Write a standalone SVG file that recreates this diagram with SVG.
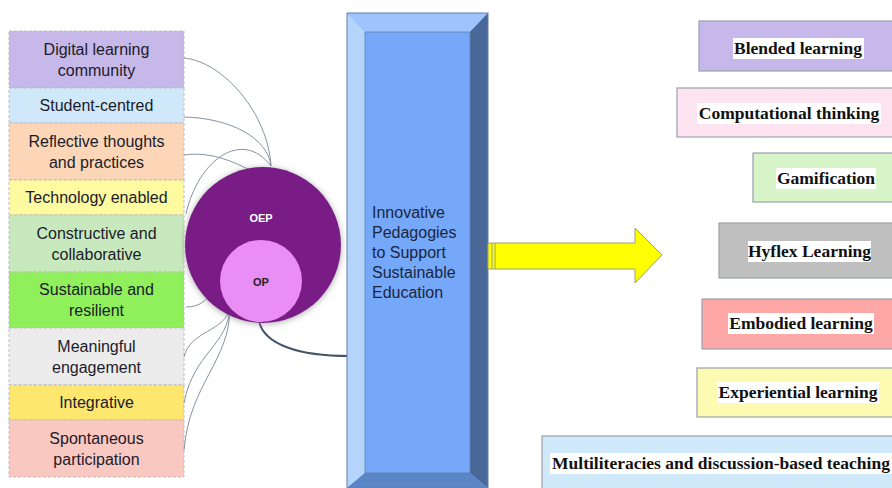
<svg xmlns="http://www.w3.org/2000/svg" width="892" height="488" viewBox="0 0 892 488">
<defs>
<filter id="glow" x="-20%" y="-20%" width="140%" height="140%">
<feGaussianBlur in="SourceAlpha" stdDeviation="3"/>
<feOffset dx="0" dy="1" result="b"/>
<feFlood flood-color="#888" flood-opacity="0.7"/>
<feComposite in2="b" operator="in"/>
<feMerge><feMergeNode/><feMergeNode in="SourceGraphic"/></feMerge>
</filter>
</defs>
<style>
.lb{stroke:#bdbdbd;stroke-width:1;stroke-dasharray:3,2}
.lt{font-family:"Liberation Sans",Arial,sans-serif;font-size:16px;fill:#1b1b2b;text-anchor:middle}
.rb{stroke:#9aa0ac;stroke-width:1.2}
.rt{font-family:"Liberation Serif","Times New Roman",serif;font-size:17.5px;font-weight:bold;fill:#111;text-anchor:middle}
.hl{fill:#fff}
.con{fill:none;stroke:#8593a3;stroke-width:1}
</style>
<rect width="892" height="488" fill="#fff"/>

<g id="left-list">
<g id="n-digital"><rect class="lb" x="9" y="31" width="175" height="57" fill="#c6b8e8"/><text class="lt" x="96.5" y="54.5">Digital learning</text><text class="lt" x="96.5" y="75.5">community</text></g>
<g id="n-student"><rect class="lb" x="9" y="88" width="175" height="35" fill="#cfe9fb"/><text class="lt" x="96.5" y="111">Student-centred</text></g>
<g id="n-reflective"><rect class="lb" x="9" y="123" width="175" height="57" fill="#fcd6b6"/><text class="lt" x="96.5" y="146.5">Reflective thoughts</text><text class="lt" x="96.5" y="167.5">and practices</text></g>
<g id="n-technology"><rect class="lb" x="9" y="180" width="175" height="35" fill="#fdfa9f"/><text class="lt" x="96.5" y="203">Technology enabled</text></g>
<g id="n-constructive"><rect class="lb" x="9" y="215" width="175" height="57" fill="#c8e9bd"/><text class="lt" x="96.5" y="238.5">Constructive and</text><text class="lt" x="96.5" y="259.5">collaborative</text></g>
<g id="n-sustainable"><rect class="lb" x="9" y="272" width="175" height="56" fill="#8ff05b"/><text class="lt" x="96.5" y="295">Sustainable and</text><text class="lt" x="96.5" y="316">resilient</text></g>
<g id="n-meaningful"><rect class="lb" x="9" y="328" width="175" height="57" fill="#ececec"/><text class="lt" x="96.5" y="351.5">Meaningful</text><text class="lt" x="96.5" y="372.5">engagement</text></g>
<g id="n-integrative"><rect class="lb" x="9" y="385" width="175" height="35" fill="#fde76e"/><text class="lt" x="96.5" y="408">Integrative</text></g>
<g id="n-spontaneous"><rect class="lb" x="9" y="420" width="175" height="57" fill="#f9c8c1"/><text class="lt" x="96.5" y="443.5">Spontaneous</text><text class="lt" x="96.5" y="464.5">participation</text></g>
</g>

<g id="connectors">
<path class="con" d="M184,58 C224,62 268,114 271,166"/>
<path class="con" d="M184,117 C230,118 268,138 271,166"/>
<path class="con" d="M184,155 C212,151 236,163 252,171"/>
<path class="con" d="M186,214 C198,160 242,128 271,166"/>
<path class="con" d="M186,307 C198,307 204,302 209,296"/>
<path class="con" d="M184,357 C190,330 226,332 230,307"/>
<path class="con" d="M184,403 C194,352 228,346 230,307"/>
<path class="con" d="M184,450 C190,382 230,362 230,307"/>
<path d="M259,321 C264,345 300,356 349,356" fill="none" stroke="#445469" stroke-width="2"/>
</g>

<g id="n-oep">
<circle cx="263" cy="245" r="78" fill="#7a1f86" filter="url(#glow)"/>
<text x="261" y="222" font-family="'Liberation Sans',Arial,sans-serif" font-size="11" font-weight="bold" fill="#fff" text-anchor="middle">OEP</text>
</g>
<g id="n-op">
<circle cx="261" cy="281" r="41" fill="#e98ef4"/>
<text x="261" y="286" font-family="'Liberation Sans',Arial,sans-serif" font-size="11" font-weight="bold" fill="#222" text-anchor="middle">OP</text>
</g>

<g id="n-center">
<rect x="347" y="13" width="141" height="475" fill="#75a8f8"/>
<polygon points="347,13 488,13 470,32 365,32" fill="#9fc4fd"/>
<polygon points="347,13 365,32 365,473 347,488" fill="#b4d4fc"/>
<polygon points="488,13 488,488 470,473 470,32" fill="#4a6897"/>
<polygon points="347,488 365,473 470,473 488,488" fill="#5a86c6"/>
<rect x="347" y="13" width="141" height="475" fill="none" stroke="#5f7fb0" stroke-width="1"/>
<rect x="365" y="32" width="105" height="441" fill="none" stroke="#5f7fb0" stroke-width="0.8"/>
<g font-family="'Liberation Sans',Arial,sans-serif" font-size="16" fill="#1a2640">
<text x="372" y="218">Innovative</text>
<text x="372" y="238">Pedagogies</text>
<text x="372" y="258">to Support</text>
<text x="372" y="278">Sustainable</text>
<text x="372" y="298">Education</text>
</g>
</g>

<g id="arrow">
<polygon points="488,243 635,243 635,228 662,255 635,283 635,269 488,269" fill="#ffff00" stroke="#a0a070" stroke-width="1"/>
<line x1="492" y1="243" x2="492" y2="269" stroke="#a0a070" stroke-width="1"/>
<line x1="495" y1="243" x2="495" y2="269" stroke="#a0a070" stroke-width="1"/>
</g>

<g id="right-list">
<g id="n-blended"><rect class="rb" x="699" y="21" width="200" height="50" fill="#c6b8ea"/><rect class="hl" x="733" y="38" width="131" height="21"/><text class="rt" x="798" y="54">Blended learning</text></g>
<g id="n-computational"><rect class="rb" x="677" y="88" width="222" height="49" fill="#fde4f0"/><rect class="hl" x="697" y="103" width="184" height="21"/><text class="rt" x="789" y="119">Computational thinking</text></g>
<g id="n-gamification"><rect class="rb" x="753" y="153" width="146" height="49" fill="#d8f5c9"/><rect class="hl" x="776" y="168" width="100" height="21"/><text class="rt" x="826" y="184">Gamification</text></g>
<g id="n-hyflex"><rect class="rb" x="719" y="223" width="180" height="55" fill="#bfbfbf"/><rect class="hl" x="748" y="241" width="123" height="21"/><text class="rt" x="809.5" y="257">Hyflex Learning</text></g>
<g id="n-embodied"><rect class="rb" x="702" y="299" width="197" height="50" fill="#fda7a7"/><rect class="hl" x="728" y="313" width="146" height="21"/><text class="rt" x="801" y="329">Embodied learning</text></g>
<g id="n-experiential"><rect class="rb" x="697" y="368" width="202" height="49" fill="#fdfbb1"/><rect class="hl" x="717" y="382" width="162" height="21"/><text class="rt" x="798" y="398">Experiential learning</text></g>
<g id="n-multiliteracies"><rect class="rb" x="542" y="436" width="357" height="60" fill="#cfe9fb"/><rect class="hl" x="550" y="453" width="345" height="21"/><text class="rt" x="721" y="469">Multiliteracies and discussion-based teaching</text></g>
</g>
</svg>
